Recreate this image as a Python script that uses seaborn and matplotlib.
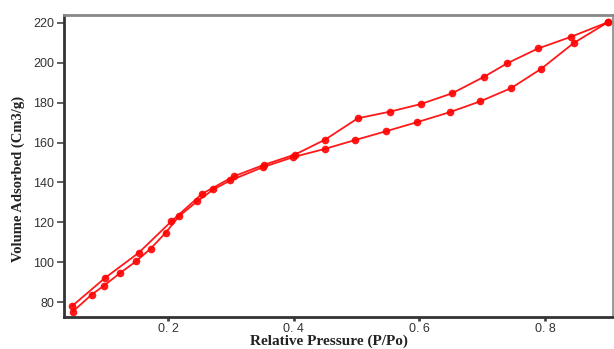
import matplotlib
matplotlib.use("Agg")
import matplotlib.pyplot as plt
import seaborn as sns
import pandas as pd

# Adsorption (lower) branch
ads_x = [0.048, 0.078, 0.098, 0.124, 0.149, 0.172, 0.196, 0.217, 0.246, 0.272, 0.299,
         0.351, 0.399, 0.449, 0.498, 0.547, 0.596, 0.648, 0.697, 0.746, 0.794, 0.846, 0.901]
ads_y = [75.2, 83.7, 88.3, 94.7, 100.5, 106.8, 114.8, 123.0, 130.5, 136.5, 141.0,
         147.7, 152.7, 156.8, 161.3, 165.7, 170.2, 175.2, 180.7, 187.3, 197.0, 210.0, 220.5]
# Desorption (upper) branch
des_x = [0.901, 0.841, 0.789, 0.740, 0.703, 0.652, 0.602, 0.553, 0.502, 0.450, 0.402,
         0.352, 0.304, 0.254, 0.205, 0.153, 0.099, 0.047]
des_y = [220.5, 213.0, 207.2, 199.8, 193.0, 184.7, 179.3, 175.5, 172.2, 161.5, 154.0,
         148.8, 143.0, 134.3, 120.5, 104.7, 92.0, 78.0]

x_ticks = [0.2, 0.4, 0.6, 0.8]
x_ticklabels = ["0. 2", "0. 4", "0. 6", "0. 8"]
y_ticks = [80, 100, 120, 140, 160, 180, 200, 220]

df = pd.concat([
    pd.DataFrame({"p": ads_x, "v": ads_y, "branch": "Adsorption"}),
    pd.DataFrame({"p": des_x, "v": des_y, "branch": "Desorption"}),
], ignore_index=True)

sns.set_style("white")
plt.rcParams["font.family"] = ["Liberation Sans", "DejaVu Sans"]

fig = plt.figure(figsize=(6.14, 3.49), dpi=100)
ax = fig.add_axes([0.1042, 0.0917, 0.8938, 0.8653])

sns.lineplot(data=df, x="p", y="v", hue="branch", palette={"Adsorption": "#ff0000", "Desorption": "#ff0000"},
             sort=False, estimator=None, marker="o", markersize=5.5, markeredgewidth=0,
             linewidth=1.3, legend=False, ax=ax, alpha=0.9)

ax.set_xlim(0.034, 0.908)
ax.set_ylim(72.5, 224)
ax.set_xticks(x_ticks)
ax.set_xticklabels(x_ticklabels)
ax.set_yticks(y_ticks)
ax.set_xlabel("")
ax.set_ylabel("")

ax.tick_params(axis="y", direction="out", length=5, width=1.2, color="#444444",
               labelsize=9, labelcolor="#333333", left=True, pad=2)
ax.tick_params(axis="x", direction="out", length=3, width=2, color="#444444",
               labelsize=9, labelcolor="#333333", bottom=True, pad=1)

ax.spines["left"].set_color("#333333")
ax.spines["left"].set_linewidth(2)
ax.spines["bottom"].set_color("#333333")
ax.spines["bottom"].set_linewidth(2)
ax.spines["top"].set_color("#888888")
ax.spines["top"].set_linewidth(2)
ax.spines["right"].set_color("#888888")
ax.spines["right"].set_linewidth(1.2)

fig.text(329 / 614, 1.0 / 349, "Relative Pressure (P/Po)", ha="center", va="bottom",
         fontsize=11, fontweight="bold", family=["Liberation Serif", "DejaVu Serif"], color="#222222")
fig.text(18 / 614, 1 - 179 / 349, "Volume Adsorbed (Cm3/g)", ha="center", va="center",
         rotation=90, fontsize=10.5, fontweight="bold", family=["Liberation Serif", "DejaVu Serif"],
         color="#222222")

fig.savefig("out.png", dpi=100)
